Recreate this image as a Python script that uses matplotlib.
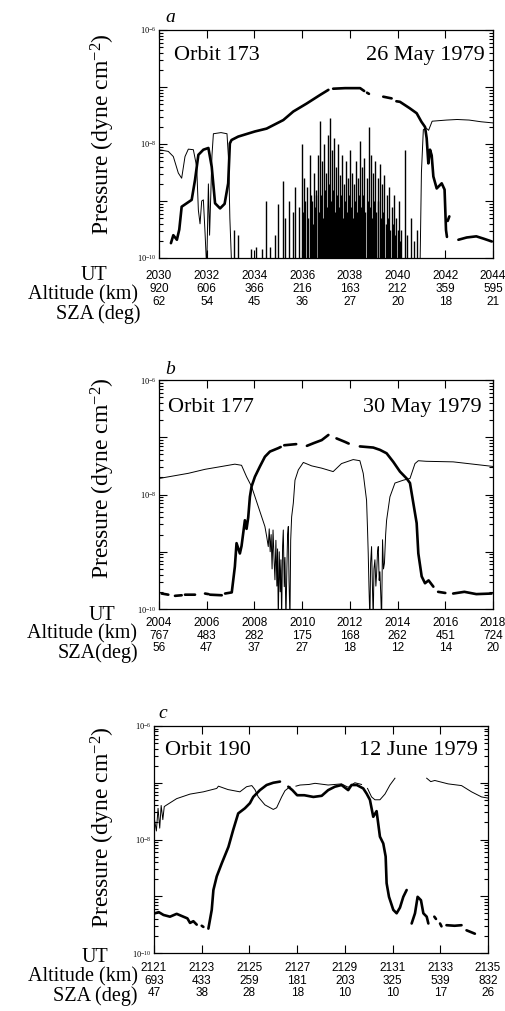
import numpy as np
import matplotlib.pyplot as plt
from matplotlib.ticker import LogLocator, NullFormatter

plt.rcParams['font.family'] = ['Liberation Serif', 'DejaVu Serif']
plt.rcParams['mathtext.fontset'] = 'custom'
plt.rcParams['mathtext.rm'] = 'Liberation Serif'
plt.rcParams['mathtext.it'] = 'Liberation Serif:italic'

nan = np.nan

# time in minutes after the first UT tick, pressure as log10(dyne cm^-2)
# ---- panel a, orbit 173
a_thin_t = [0, 0.39, 0.6, 0.81, 0.95, 1.09, 1.23, 1.44, 1.58, 1.65, 1.72, 1.79, 1.86, 1.93, 2.0,
            2.07, 2.12, 2.22, 2.28, 2.6, 2.85, 2.92, 2.97, 3.05, nan,
            10.94, 11.0, 11.08, 11.2, 11.3, 11.45, 12.05, 12.5, 13.0, 13.5, 14.0]
a_thin_p = [-8.1, -8.13, -8.22, -8.51, -8.6, -8.22, -8.09, -8.1, -8.4, -9.16, -9.4, -9.0, -8.98, -9.56, -10.2,
            -8.7, -9.6, -8.2, -7.82, -7.8, -7.82, -8.3, -9.3, -10.2, nan,
            -10.2, -8.5, -7.75, -7.72, -7.76, -7.6, -7.58, -7.57, -7.58, -7.61, -7.63]
# spikes of the thin trace while it sits near the floor
a_spike_t = [3.15, 3.3, 3.85, 4.05, 4.3, 4.5, 4.65, 4.85, 5.0, 5.2, 5.3, 5.45, 5.6, 5.72, 5.85,
             5.98, 6.08, 6.2, 6.32, 6.4, 6.48, 6.56, 6.65, 6.75, 6.85, 6.92, 7.0, 7.08, 7.17, 7.25,
             7.33, 7.42, 7.5, 7.58, 7.66, 7.75, 7.83, 7.92, 8.0, 8.08, 8.17, 8.25, 8.33, 8.42, 8.5,
             8.6, 8.7, 8.8, 8.9, 8.98, 9.07, 9.16, 9.25, 9.35, 9.45, 9.55, 9.65, 9.75, 9.85, 9.95,
             10.05, 10.15, 10.3, 10.4, 10.55, 10.7, 10.8]
a_spike_p = [-9.5, -9.6, -9.85, -9.8, -9.85, -9.0, -9.8, -9.6, -9.05, -8.65, -9.3, -9.0, -9.2, -8.75, -9.1,
             -8.0, -8.6, -8.75, -8.2, -9.0, -8.5, -8.9, -8.2, -7.6, -8.3, -8.0, -8.5, -7.85, -7.55, -8.1,
             -7.9, -8.4, -8.0, -8.55, -8.2, -8.7, -8.3, -8.6, -8.1, -8.5, -8.7, -8.3, -8.6, -7.95, -8.4,
             -8.25, -8.6, -7.7, -8.2, -8.5, -8.3, -8.6, -8.35, -8.7, -8.55, -8.9, -8.75, -9.1, -8.9, -9.3,
             -9.0, -9.5, -8.1, -9.6, -9.3, -9.7, -9.5]
a_fill_t = [6.02, 6.14, 6.26, 6.36, 6.44, 6.52, 6.6, 6.7,
            6.8, 6.88, 6.96, 7.04, 7.12, 7.21, 7.29, 7.37,
            7.46, 7.54, 7.62, 7.7, 7.79, 7.87, 7.96, 8.04,
            8.12, 8.21, 8.29, 8.37, 8.46, 8.55, 8.65, 8.75,
            8.85, 8.94, 9.02, 9.11, 9.2, 9.3, 9.4, 9.5,
            9.6, 9.7, 9.8, 9.9, 10.0, 10.1]
a_fill_p = [-9.2, -9.0, -9.3, -8.9, -9.4, -9.1, -8.8, -9.2,
            -8.9, -9.3, -8.8, -9.1, -8.7, -9.0, -8.8, -9.2,
            -8.9, -9.1, -8.9, -9.3, -9.0, -9.2, -8.9, -9.1,
            -9.3, -9.0, -9.2, -8.9, -9.1, -8.9, -9.2, -9.0,
            -9.1, -9.3, -9.0, -9.2, -9.0, -9.3, -9.2, -9.4,
            -9.3, -9.5, -9.4, -9.6, -9.5, -9.7]
a_thick_t = [0.5, 0.6, 0.75, 0.85, 0.95, 1.16, 1.37, 1.51, 1.65, 1.86, 2.07, 2.21, 2.35, 2.56, 2.75,
             2.9, 2.97, 3.04, 3.32, 4.02, 4.51, 5.21, 5.63, 6.19, 6.75, 7.1, nan, 7.3, 7.8, 8.43,
             8.6, nan, 8.72, 8.8, nan, 9.4, 9.75, nan, 9.95, 10.1, 10.5, 10.8, 11.0, 11.15, 11.22,
             11.29, 11.36, 11.43, 11.5, 11.64, 11.85, 11.97, 12.03, 12.07, nan, 12.1, 12.17, nan,
             12.55, 12.9, 13.3, 13.6, 13.95]
a_thick_p = [-9.74, -9.6, -9.68, -9.5, -9.1, -9.04, -8.98, -8.63, -8.19, -8.1, -8.07, -8.40, -9.04, -9.13, -9.05,
             -8.69, -7.99, -7.93, -7.87, -7.78, -7.73, -7.58, -7.43, -7.29, -7.14, -7.05, nan, -7.03, -7.02, -7.02,
             -7.07, nan, -7.1, -7.12, nan, -7.17, -7.2, nan, -7.25, -7.26, -7.37, -7.46, -7.61, -7.70, -7.9,
             -8.34, -8.1, -8.2, -8.57, -8.78, -8.69, -8.8, -9.51, -9.63, nan, -9.35, -9.27, nan,
             -9.68, -9.64, -9.62, -9.66, -9.71]
a_ut = [2030, 2032, 2034, 2036, 2038, 2040, 2042, 2044]
a_alt = [920, 606, 366, 216, 163, 212, 359, 595]
a_sza = [62, 54, 45, 36, 27, 20, 18, 21]

# ---- panel b, orbit 177
b_thin_t = [0, 1.23, 1.93, 2.63, 3.18, 3.46, 3.67, 3.88, 4.16, 4.44,
            4.52, 4.58, 4.62, 4.66, 4.7, 4.74, 4.78, 4.82, 4.86, 4.9,
            4.94, 4.97, 5.0, 5.04, 5.08, 5.11, 5.14, 5.18, 5.21, 5.25,
            5.28, 5.32, 5.36, 5.39, 5.42, 5.45, 5.49, 5.52, 5.56, 5.63,
            5.7, 5.84, 6.05, 6.4, 6.82, 7.3, 7.65, 8.14, 8.42, 8.56,
            8.7, 8.74, 8.77, 8.8, 8.84, 8.87, 8.91, 8.94, 8.98, 9.01,
            9.05, 9.09, 9.12, 9.16, 9.19, 9.23, 9.26, 9.3, 9.33, 9.37,
            9.41, 9.45, 9.5, 9.54, 9.68, 9.89, 10.24, 10.52, 10.73, 10.87,
            11.2, 12.33, 14.0]
b_thin_p = [-7.72, -7.63, -7.56, -7.51, -7.47, -7.49, -7.69, -7.86, -8.21, -8.56,
            -8.75, -8.91, -8.6, -9.0, -8.7, -9.3, -8.62, -9.1, -9.49, -8.8,
            -9.6, -8.95, -10.2, -9.0, -9.7, -9.14, -10.2, -8.9, -8.62, -9.61,
            -9.1, -10.2, -9.3, -8.7, -8.56, -9.5, -10.2, -8.8, -8.39, -8.15,
            -7.75, -7.57, -7.44, -7.5, -7.54, -7.60, -7.46, -7.39, -7.41, -7.63,
            -8.10, -8.6, -9.03, -9.6, -10.2, -9.2, -8.91, -9.5, -10.2, -9.3,
            -9.14, -9.6, -9.4, -9.0, -8.91, -9.5, -9.35, -9.8, -10.2, -8.79,
            -9.3, -9.2, -8.7, -8.45, -8.04, -7.80, -7.75, -7.72, -7.46, -7.41,
            -7.42, -7.43, -7.51]
b_thick_t = [0.11, 0.39, nan, 0.67, 0.95, nan, 1.09, 1.51, nan, 1.93, 2.07, nan, 2.14, 2.63, nan,
             2.77, 3.05, 3.18, 3.25, 3.39, 3.46, 3.6, 3.67, 3.74, 3.81, 3.88, 4.02, 4.23, 4.44, 4.65,
             5.0, 5.1, nan, 5.25, 5.75, nan, 6.2, 6.5, 6.82, 7.1, nan, 7.44, 7.79, 7.95, nan,
             8.42, 8.98, 9.26, 9.54, 9.82, 10.1, 10.38, 10.52, 10.66, 10.8, 10.87, 11.01, 11.15, 11.3, 11.5,
             nan, 11.7, 12.0, nan, 12.33, 12.8, 13.3, 13.94]
b_thick_p = [-9.73, -9.75, nan, -9.77, -9.76, nan, -9.75, -9.75, nan, -9.73, -9.74, nan, -9.75, -9.76, nan,
             -9.73, -9.71, -9.26, -8.85, -9.03, -8.9, -8.45, -8.6, -8.4, -8.04, -7.86, -7.69, -7.51, -7.34, -7.25,
             -7.19, -7.17, nan, -7.14, -7.12, nan, -7.15, -7.1, -7.05, -6.96, nan, -7.02, -7.08, -7.11, nan,
             -7.16, -7.18, -7.22, -7.28, -7.43, -7.60, -7.72, -7.80, -8.15, -8.50, -9.03, -9.43, -9.55, -9.5, -9.61,
             nan, -9.70, -9.72, nan, -9.73, -9.70, -9.74, -9.73]
b_ut = [2004, 2006, 2008, 2010, 2012, 2014, 2016, 2018]
b_alt = [767, 483, 282, 175, 168, 262, 451, 724]
b_sza = [56, 47, 37, 27, 18, 12, 14, 20]

# ---- panel c, orbit 190
c_thin_t = [0, 0.1, 0.17, 0.24, 0.3, 0.37, 0.43, 0.5, 0.95, 1.51, 2.07, 2.63, 2.7, 3.1, 3.6,
            3.88, 4.1, 4.23, 4.37, 4.65, 5.0, 5.14, 5.35, 5.49, 5.7, nan, 5.95, 6.12, 6.5, 6.75,
            7.3, 7.86, 8.14, 8.42, 8.7, nan, 8.95, 9.12, 9.26, 9.47, 9.68, 9.89, 10.1, nan, 11.43,
            11.6, 11.77, 12.33, 12.89, 13.31, 13.73, 14.0]
c_thin_p = [-7.6, -7.85, -7.45, -7.8, -7.4, -7.65, -7.42, -7.4, -7.28, -7.2, -7.16, -7.1, -7.06, -7.12, -7.16,
            -7.07, -7.05, -7.12, -7.25, -7.39, -7.47, -7.44, -7.25, -7.14, -7.07, nan, -7.06, -7.04, -7.03, -7.01,
            -7.04, -7.02, -7.08, -7.0, -7.03, nan, -7.1, -7.25, -7.3, -7.30, -7.2, -7.04, -6.92, nan, -6.92,
            -6.98, -6.96, -7.02, -7.05, -7.16, -7.25, -7.27]
c_thick_t = [0.04, 0.2, 0.4, 0.67, 0.95, 1.23, 1.4, 1.51, 1.65, 1.79, nan, 2.0, 2.07, nan, 2.28,
             2.42, 2.49, 2.63, 2.84, 3.12, 3.32, 3.53, 3.81, 4.02, 4.16, 4.44, 4.72, 5.0, 5.28, nan,
             5.63, 5.8, 6.0, 6.3, 6.68, 7.03, 7.3, 7.58, 7.86, 8.14, 8.28, 8.5, 8.77, 8.91, 9.05,
             9.19, 9.33, 9.47, 9.61, 9.71, 9.75, 9.85, 10.03, 10.17, 10.31, 10.45, 10.59, nan, 10.8, 10.94,
             11.05, 11.19, 11.29, 11.43, 11.5, nan, 11.75, 11.82, nan, 11.99, 12.05, nan, 12.26, 12.6, 12.89,
             nan, 13.1, 13.45]
c_thick_p = [-9.3, -9.28, -9.33, -9.36, -9.31, -9.36, -9.39, -9.47, -9.44, -9.5, nan, -9.52, -9.54, nan, -9.57,
             -9.24, -8.89, -8.65, -8.42, -8.13, -7.83, -7.54, -7.45, -7.36, -7.25, -7.13, -7.04, -7.0, -6.98, nan,
             -7.07, -7.13, -7.22, -7.22, -7.25, -7.23, -7.13, -7.07, -7.04, -7.13, -7.04, -7.04, -7.1, -7.19, -7.30,
             -7.60, -7.5, -7.95, -8.07, -8.30, -8.77, -9.01, -9.24, -9.30, -9.2, -9.01, -8.89, nan, -9.48, -9.3,
             -9.01, -9.07, -9.30, -9.36, -9.48, nan, -9.36, -9.4, nan, -9.48, -9.53, nan, -9.51, -9.52, -9.51,
             nan, -9.6, -9.66]
c_ut = [2121, 2123, 2125, 2127, 2129, 2131, 2133, 2135]
c_alt = [693, 433, 259, 181, 203, 325, 539, 832]
c_sza = [47, 38, 28, 18, 10, 10, 17, 26]

W, H = 506, 1011
fig = plt.figure(figsize=(W / 100, H / 100), dpi=100)


def fx(x):
    return x / W


def fy(y):
    return 1 - y / H


def panel(box, letter, orbit, date, thin_t, thin_p, thick_t, thick_p, ut, alt, sza,
          rows, labels, sza_label, ylab_y, spikes=()):
    l, t, r, b = box
    ax = fig.add_axes([fx(l), fy(b), (r - l) / W, (b - t) / H])
    ax.set_yscale('log')
    ax.plot(thin_t, 10 ** np.array(thin_p), color='k', lw=0.7)
    for st, sp in spikes:
        ax.vlines(st, 1e-10, 10 ** np.array(sp), color='k', lw=1.0)
    ax.plot(thick_t, 10 ** np.array(thick_p), color='k', lw=1.9, solid_capstyle='round')
    ax.set_xlim(0, 14)
    ax.set_ylim(1e-10, 1e-6)
    ax.set_xticks(range(0, 15, 2))
    ax.set_yticks([1e-10, 1e-9, 1e-8, 1e-7, 1e-6],
                  ['$10^{-10}$', '', '$10^{-8}$', '', '$10^{-6}$'])
    ax.yaxis.set_minor_locator(LogLocator(base=10, subs=np.arange(2, 10)))
    ax.yaxis.set_minor_formatter(NullFormatter())
    ax.tick_params(which='both', direction='in', top=True, right=True,
                   labelbottom=False, labelsize=6, pad=2, width=0.8)
    ax.tick_params(which='major', length=6)
    ax.tick_params(which='minor', length=3)
    for s in ax.spines.values():
        s.set_linewidth(0.9)

    ax.text(orbit[1], orbit[2], orbit[0], transform=ax.transAxes, fontsize=16,
            ha='left', va='center')
    ax.text(date[1], date[2], date[0], transform=ax.transAxes, fontsize=16,
            ha='right', va='center')
    fig.text(fx(letter[1]), fy(letter[2]), letter[0], fontsize=14, style='italic',
             ha='center', va='center')
    fig.text(fx(103), fy(ylab_y), 'Pressure (dyne cm$^{-2}$)', rotation=90,
             fontsize=17, ha='center', va='center')

    for i in range(len(ut)):
        for vals, dy in zip((ut, alt, sza), rows):
            ax.annotate(str(vals[i]), xy=(2 * i, 0), xycoords=('data', 'axes fraction'),
                        xytext=(0, -dy * 0.72), textcoords='offset points',
                        ha='center', va='center', fontsize=8.5, family='Liberation Sans')
    for txt, (x, y) in zip(('UT', 'Altitude (km)', sza_label), labels):
        fig.text(fx(x), fy(y), txt, fontsize=14.5, ha='right', va='center')
    return ax


panel((159, 30, 493, 258), ('a', 170, 18), ('Orbit 173', 0.045, 0.89), ('26 May 1979', 0.975, 0.89),
      a_thin_t, a_thin_p, a_thick_t, a_thick_p, a_ut, a_alt, a_sza,
      (18.5, 31.5, 44.5), ((107, 276), (138, 295), (140, 314)), 'SZA (deg)', 134,
      spikes=[(a_spike_t, a_spike_p), (a_fill_t, a_fill_p)])
panel((159, 380, 493, 609), ('b', 170, 370), ('Orbit 177', 0.027, 0.878), ('30 May 1979', 0.965, 0.878),
      b_thin_t, b_thin_p, b_thick_t, b_thick_p, b_ut, b_alt, b_sza,
      (14.5, 27, 39), ((115, 615), (137, 634), (138, 653)), 'SZA(deg)', 478)
panel((154, 726, 488, 953), ('c', 163, 713), ('Orbit 190', 0.033, 0.894), ('12 June 1979', 0.97, 0.894),
      c_thin_t, c_thin_p, c_thick_t, c_thick_p, c_ut, c_alt, c_sza,
      (15, 28.5, 40), ((108, 958), (138, 977), (138, 996)), 'SZA (deg)', 827)

fig.savefig('out.png', dpi=100)
